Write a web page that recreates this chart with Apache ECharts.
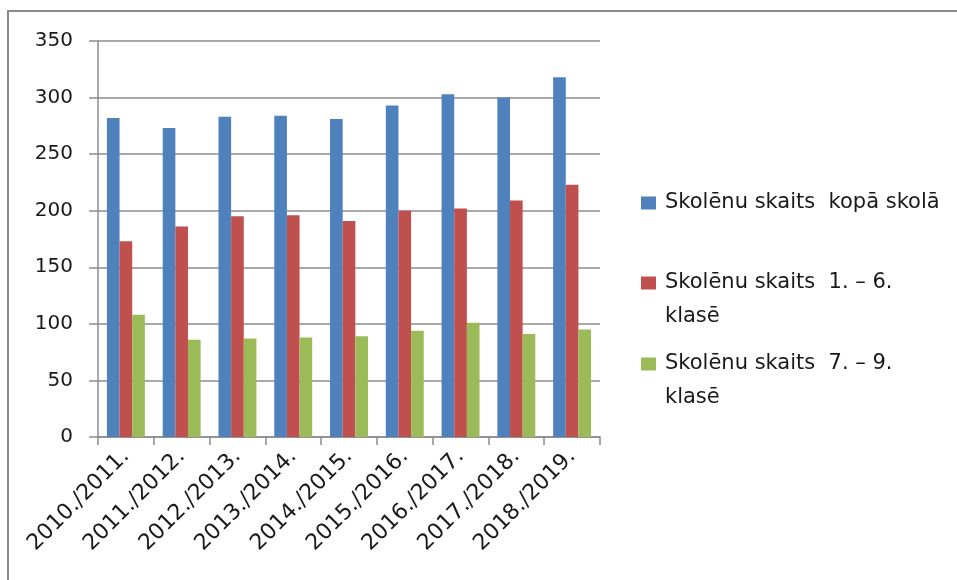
<!DOCTYPE html>
<html>
<head>
<meta charset="utf-8">
<script src="https://cdn.jsdelivr.net/npm/echarts@6/dist/echarts.min.js"></script>
<style>
  html, body { margin: 0; padding: 0; background: #fff; }
  #chart { width: 957px; height: 580px; }
</style>
</head>
<body>
<div id="chart"></div>
<script>
var years = ['2010./2011.', '2011./2012.', '2012./2013.', '2013./2014.', '2014./2015.',
             '2015./2016.', '2016./2017.', '2017./2018.', '2018./2019.'];
var seriesNames = ['Skolēnu skaits  kopā skolā', 'Skolēnu skaits  1. – 6. klasē', 'Skolēnu skaits  7. – 9. klasē'];
var totalSchool = [282, 273, 283, 284, 281, 293, 303, 300, 318];
var grades1to6 = [173, 186, 195, 196, 191, 200, 202, 209, 223];
var grades7to9 = [108, 86, 87, 88, 89, 94, 101, 91, 95];
var yTicks = { min: 0, max: 350, interval: 50 };

var colors = ['#4f81bd', '#c0504d', '#9bbb59'];
var font = 'DejaVu Sans';
var gridColor = '#8c8c8c';

// one legend per item, so each row can sit where the original put it
function legendFor(index, top, twoLines) {
	return {
		data: [seriesNames[index]],
		left: 641,
		top: top,
		padding: 0,
		orient: 'vertical',
		icon: 'rect',
		itemWidth: 15,
		itemHeight: 13,
		selectedMode: false,
		formatter: function(name) {
			// empty first line keeps the icon level with the first text line
			return twoLines ? '\n' + name.replace(' klasē', '\nklasē') : name;
		},
		textStyle: {
			fontFamily: font,
			fontSize: 21,
			color: '#1a1a1a',
			lineHeight: 34,
			padding: [0, 0, 0, 4]
		}
	};
}

var chart = echarts.init(document.getElementById('chart'), null, { renderer: 'canvas' });
chart.setOption({
	animation: false,
	color: colors,
	graphic: [{
		type: 'rect',
		shape: { x: 8, y: 11, width: 1000, height: 1000 },
		style: { fill: 'none', stroke: '#8a8a8a', lineWidth: 2 },
		silent: true
	}],
	legend: [
		legendFor(0, 186, false),
		legendFor(1, 232, true),
		legendFor(2, 313, true)
	],
	grid: { left: 98, right: 357, top: 41, bottom: 143 },
	xAxis: {
		type: 'category',
		data: years,
		axisLine: { lineStyle: { color: gridColor, width: 1.5 } },
		axisTick: { show: true, length: 8, lineStyle: { color: gridColor, width: 1.5 } },
		axisLabel: {
			rotate: 45,
			margin: 16,
			interval: 0,
			fontFamily: font,
			fontSize: 22,
			color: '#1a1a1a'
		}
	},
	yAxis: {
		type: 'value',
		min: yTicks.min,
		max: yTicks.max,
		interval: yTicks.interval,
		axisLine: { show: true, lineStyle: { color: gridColor, width: 1.5 } },
		axisTick: { show: true, length: 9, lineStyle: { color: gridColor, width: 1.5 } },
		splitLine: { lineStyle: { color: gridColor, width: 1.5 } },
		axisLabel: {
			margin: 25,
			fontFamily: font,
			fontSize: 20,
			color: '#1a1a1a'
		}
	},
	series: [
		{ name: seriesNames[0], type: 'bar', data: totalSchool, barGap: '0%', barCategoryGap: '32%' },
		{ name: seriesNames[1], type: 'bar', data: grades1to6, barGap: '0%', barCategoryGap: '32%' },
		{ name: seriesNames[2], type: 'bar', data: grades7to9, barGap: '0%', barCategoryGap: '32%' }
	]
});
</script>
</body>
</html>
